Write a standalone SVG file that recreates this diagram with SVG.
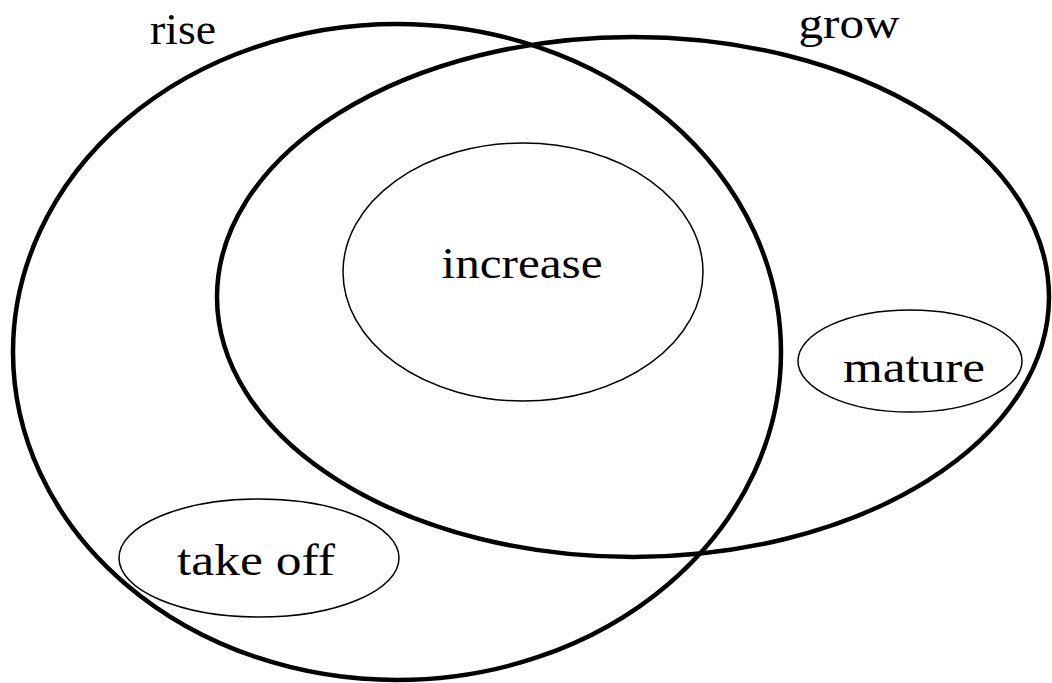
<svg xmlns="http://www.w3.org/2000/svg" width="1052" height="683" viewBox="0 0 1052 683">
<style>
.big{fill:none;stroke:#000;stroke-width:4.5}
.small{fill:none;stroke:#000;stroke-width:1.5}
text{font-family:"Liberation Serif","Times New Roman",serif;font-size:44px;fill:#000;text-anchor:middle}
</style>
<rect width="1052" height="683" fill="#fff"/>
<g id="rise">
<ellipse class="big" cx="397" cy="352" rx="384" ry="328"/>
<text x="183" y="44" textLength="66" lengthAdjust="spacingAndGlyphs">rise</text>
</g>
<g id="grow">
<ellipse class="big" cx="633" cy="297" rx="416" ry="260"/>
<text x="849" y="38" textLength="101" lengthAdjust="spacingAndGlyphs">grow</text>
</g>
<g id="increase">
<ellipse class="small" cx="523" cy="272" rx="180" ry="129"/>
<text x="522" y="278" textLength="161" lengthAdjust="spacingAndGlyphs">increase</text>
</g>
<g id="mature">
<ellipse class="small" cx="910" cy="361" rx="112" ry="51"/>
<text x="914" y="382" textLength="142" lengthAdjust="spacingAndGlyphs">mature</text>
</g>
<g id="takeoff">
<ellipse class="small" cx="259" cy="558" rx="140" ry="59"/>
<text x="256" y="575" textLength="158" lengthAdjust="spacingAndGlyphs">take off</text>
</g>
<g id="connectors"/>
</svg>
